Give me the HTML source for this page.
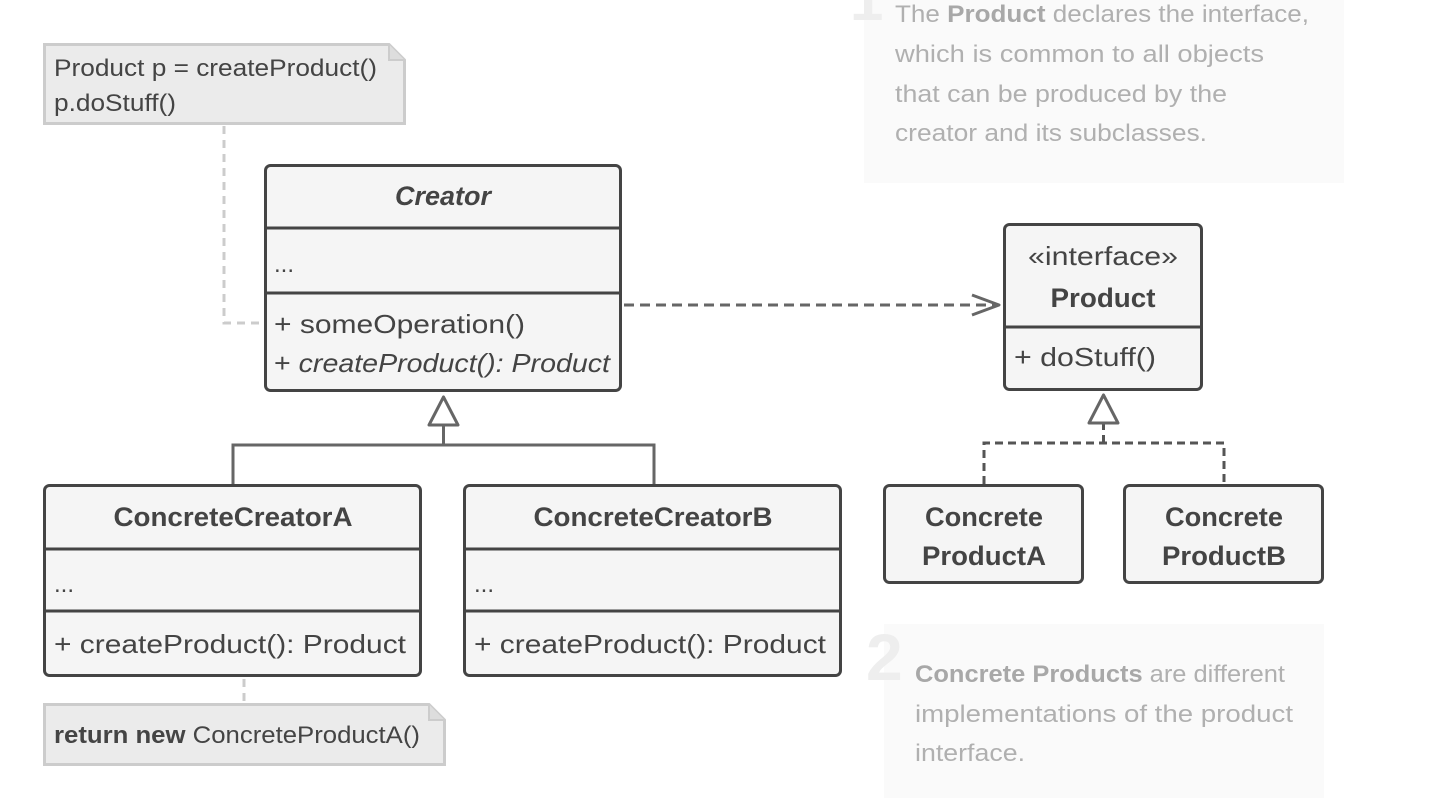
<!DOCTYPE html>
<html><head><meta charset="utf-8"><style>
html,body{margin:0;padding:0;background:#fff;}
svg{display:block;}
text{font-family:"Liberation Sans",sans-serif;fill:#444;}
</style></head><body>
<svg width="1448" height="798" viewBox="0 0 1448 798" xmlns="http://www.w3.org/2000/svg">
<!-- panels -->
<rect x="864" y="0" width="480" height="183" fill="#fafafa"/>
<text x="850" y="20" font-size="60" font-weight="bold" style="fill:#eee">1</text>
<g font-size="24" style="fill:#aaa">
<text x="895" y="22" style="fill:#b0b0b0" textLength="414" lengthAdjust="spacingAndGlyphs">The <tspan font-weight="bold" style="fill:#a8a8a8">Product</tspan> declares the interface,</text>
<text x="895" y="62" style="fill:#b0b0b0" textLength="369" lengthAdjust="spacingAndGlyphs">which is common to all objects</text>
<text x="895" y="102" style="fill:#b0b0b0" textLength="332" lengthAdjust="spacingAndGlyphs">that can be produced by the</text>
<text x="895" y="141" style="fill:#b0b0b0" textLength="312" lengthAdjust="spacingAndGlyphs">creator and its subclasses.</text>
</g>
<rect x="884" y="624" width="440" height="174" fill="#fafafa"/>
<text x="866" y="680" font-size="66" font-weight="bold" style="fill:#eee">2</text>
<g font-size="24">
<text x="915" y="682" style="fill:#b0b0b0" textLength="370" lengthAdjust="spacingAndGlyphs"><tspan font-weight="bold" style="fill:#a8a8a8">Concrete Products</tspan> are different</text>
<text x="915" y="722" style="fill:#b0b0b0" textLength="378" lengthAdjust="spacingAndGlyphs">implementations of the product</text>
<text x="915" y="761" style="fill:#b0b0b0" textLength="110" lengthAdjust="spacingAndGlyphs">interface.</text>
</g>

<!-- note 1 -->
<path d="M44.5,44.5 H389 L404.5,60 V123.5 H44.5 Z" fill="#ebebeb" stroke="#ccc" stroke-width="3"/>
<path d="M389,44.5 V60 H404.5" fill="#ddd" stroke="#ccc" stroke-width="2"/>
<text x="54" y="76" font-size="24" textLength="323" lengthAdjust="spacingAndGlyphs">Product p = createProduct()</text>
<text x="54" y="111" font-size="24" textLength="122" lengthAdjust="spacingAndGlyphs">p.doStuff()</text>
<path d="M224,126 V323 H262" fill="none" stroke="#ccc" stroke-width="3" stroke-dasharray="8,6"/>

<!-- note 2 -->
<path d="M44.5,704.5 H429 L444.5,720 V764.5 H44.5 Z" fill="#ebebeb" stroke="#ccc" stroke-width="3"/>
<path d="M429,704.5 V720 H444.5" fill="#ddd" stroke="#ccc" stroke-width="2"/>
<text x="54" y="743" font-size="24" textLength="366" lengthAdjust="spacingAndGlyphs"><tspan font-weight="bold">return new</tspan> ConcreteProductA()</text>
<path d="M244,679 V703" fill="none" stroke="#ccc" stroke-width="3" stroke-dasharray="8,6"/>

<!-- Creator -->
<rect x="265.5" y="165.5" width="355" height="225" rx="5" fill="#f5f5f5" stroke="#444" stroke-width="3"/>
<line x1="265" y1="228" x2="621" y2="228" stroke="#444" stroke-width="3"/>
<line x1="265" y1="293" x2="621" y2="293" stroke="#444" stroke-width="3"/>
<text x="443" y="205" font-size="27" font-weight="bold" font-style="italic" text-anchor="middle" textLength="96" lengthAdjust="spacingAndGlyphs">Creator</text>
<text x="274" y="272" font-size="24">...</text>
<text x="274" y="333" font-size="26" textLength="251" lengthAdjust="spacingAndGlyphs">+ someOperation()</text>
<text x="274" y="372" font-size="26" textLength="336" lengthAdjust="spacingAndGlyphs">+ <tspan font-style="italic">createProduct(): Product</tspan></text>

<!-- inheritance creator -->
<path d="M233,484 V445 H654 V484 M443.5,445 V425" fill="none" stroke="#666" stroke-width="3"/>
<path d="M443.5,397 L458,425 H429 Z" fill="#fff" stroke="#666" stroke-width="3" stroke-linejoin="round"/>

<!-- CCA -->
<rect x="44.5" y="485.5" width="376" height="190" rx="5" fill="#f5f5f5" stroke="#444" stroke-width="3"/>
<line x1="44" y1="549" x2="421" y2="549" stroke="#444" stroke-width="3"/>
<line x1="44" y1="611" x2="421" y2="611" stroke="#444" stroke-width="3"/>
<text x="233" y="526" font-size="27" font-weight="bold" text-anchor="middle" textLength="239" lengthAdjust="spacingAndGlyphs">ConcreteCreatorA</text>
<text x="54" y="592" font-size="24">...</text>
<text x="54" y="653" font-size="26" textLength="352" lengthAdjust="spacingAndGlyphs">+ createProduct(): Product</text>

<!-- CCB -->
<rect x="464.5" y="485.5" width="376" height="190" rx="5" fill="#f5f5f5" stroke="#444" stroke-width="3"/>
<line x1="464" y1="549" x2="841" y2="549" stroke="#444" stroke-width="3"/>
<line x1="464" y1="611" x2="841" y2="611" stroke="#444" stroke-width="3"/>
<text x="653" y="526" font-size="27" font-weight="bold" text-anchor="middle" textLength="239" lengthAdjust="spacingAndGlyphs">ConcreteCreatorB</text>
<text x="474" y="592" font-size="24">...</text>
<text x="474" y="653" font-size="26" textLength="352" lengthAdjust="spacingAndGlyphs">+ createProduct(): Product</text>

<!-- dependency arrow -->
<path d="M624,305 H996" fill="none" stroke="#666" stroke-width="3" stroke-dasharray="10,6"/>
<path d="M972,295 L999,305 L972,315" fill="none" stroke="#666" stroke-width="3" stroke-linejoin="round"/>

<!-- Product -->
<rect x="1004.5" y="224.5" width="197" height="165" rx="5" fill="#f5f5f5" stroke="#444" stroke-width="3"/>
<line x1="1004" y1="327" x2="1202" y2="327" stroke="#444" stroke-width="3"/>
<text x="1103" y="265" font-size="26" text-anchor="middle" textLength="150" lengthAdjust="spacingAndGlyphs">«interface»</text>
<text x="1103" y="307" font-size="27" font-weight="bold" text-anchor="middle" textLength="105" lengthAdjust="spacingAndGlyphs">Product</text>
<text x="1014" y="366" font-size="26" textLength="142" lengthAdjust="spacingAndGlyphs">+ doStuff()</text>

<!-- realization -->
<path d="M984,484 V443 H1224 V484 M1103.5,443 V424" fill="none" stroke="#555" stroke-width="3" stroke-dasharray="8,5"/>
<path d="M1103.5,395 L1118,423 H1089 Z" fill="#fff" stroke="#666" stroke-width="3" stroke-linejoin="round"/>

<!-- CPA / CPB -->
<rect x="884.5" y="485.5" width="198" height="97" rx="5" fill="#f5f5f5" stroke="#444" stroke-width="3"/>
<text x="984" y="526" font-size="27" font-weight="bold" text-anchor="middle" textLength="118" lengthAdjust="spacingAndGlyphs">Concrete</text>
<text x="984" y="565" font-size="27" font-weight="bold" text-anchor="middle" textLength="124" lengthAdjust="spacingAndGlyphs">ProductA</text>
<rect x="1124.5" y="485.5" width="198" height="97" rx="5" fill="#f5f5f5" stroke="#444" stroke-width="3"/>
<text x="1224" y="526" font-size="27" font-weight="bold" text-anchor="middle" textLength="118" lengthAdjust="spacingAndGlyphs">Concrete</text>
<text x="1224" y="565" font-size="27" font-weight="bold" text-anchor="middle" textLength="124" lengthAdjust="spacingAndGlyphs">ProductB</text>
</svg>
</body></html>
